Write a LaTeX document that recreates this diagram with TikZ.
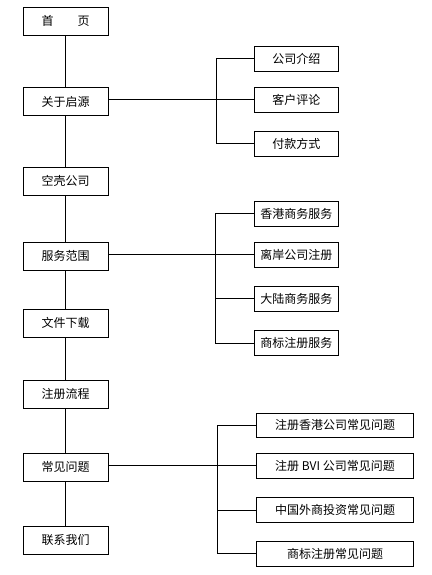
\documentclass[tikz,border=0pt]{standalone}
\usepackage{fontspec}
\setmainfont{Noto Sans CJK SC}
\begin{document}
\begin{tikzpicture}[x=1pt,y=-1pt,
  every node/.style={font=\fontsize{12}{14}\selectfont, inner sep=0pt},
  mainbox/.style={draw=black, line width=0.9pt, fill=white, minimum width=85pt, minimum height=28pt},
  subbox/.style={draw=black, line width=0.9pt, fill=white, minimum width=84pt, minimum height=25pt},
  faqbox/.style={draw=black, line width=0.9pt, fill=white, minimum width=156.6pt, minimum height=24.5pt},
  link/.style={draw=black, line width=0.9pt}]
\useasboundingbox (0,0) rectangle (431,575);
% main column
\node[mainbox] (home) at (65.5,21.3) {首　　页};
\node[mainbox] (about) at (65.5,101.5) {关于启源};
\node[mainbox] (shell) at (65.5,181.3) {空壳公司};
\node[mainbox] (service) at (65.5,256.3) {服务范围};
\node[mainbox] (download) at (65.5,323.3) {文件下载};
\node[mainbox] (process) at (65.5,394.4) {注册流程};
\node[mainbox] (faq) at (65.5,467.3) {常见问题};
\node[mainbox] (contact) at (65.5,540.2) {联系我们};
% group 1
\node[subbox] (intro) at (296.3,58.8) {公司介绍};
\node[subbox] (review) at (296.3,99.8) {客户评论};
\node[subbox] (pay) at (296.3,143.8) {付款方式};
% group 2
\node[subbox] (hk) at (296.3,213.8) {香港商务服务};
\node[subbox] (offshore) at (296.3,254.8) {离岸公司注册};
\node[subbox] (mainland) at (296.3,298.8) {大陆商务服务};
\node[subbox] (tm) at (296.3,343.2) {商标注册服务};
% group 3
\node[faqbox] (fhk) at (335,425.3) {注册香港公司常见问题};
\node[faqbox] (fbvi) at (335,465.8) {注册 BVI 公司常见问题};
\node[faqbox] (fcn) at (335,510) {中国外商投资常见问题};
\node[faqbox] (ftm) at (335,553.8) {商标注册常见问题};
% main vertical links
\path[link] (home) -- (about) (about) -- (shell) (shell) -- (service)
  (service) -- (download) (download) -- (process) (process) -- (faq) (faq) -- (contact);
% group 1 links
\path[link] (about.east |- review.west) -- (review.west);
\path[link] (intro.west) -- ++(-37.6,0) |- (pay.west);
% group 2 links
\path[link] (service.east |- offshore.west) -- (offshore.west);
\path[link] (hk.west) -- ++(-38.3,0) |- (tm.west);
\path[link] (mainland.west) -- ++(-38.3,0);
% group 3 links
\path[link] (faq.east |- fbvi.west) -- (fbvi.west);
\path[link] (fhk.west) -- ++(-38.4,0) |- (ftm.west);
\path[link] (fcn.west) -- ++(-38.4,0);
\end{tikzpicture}
\end{document}
